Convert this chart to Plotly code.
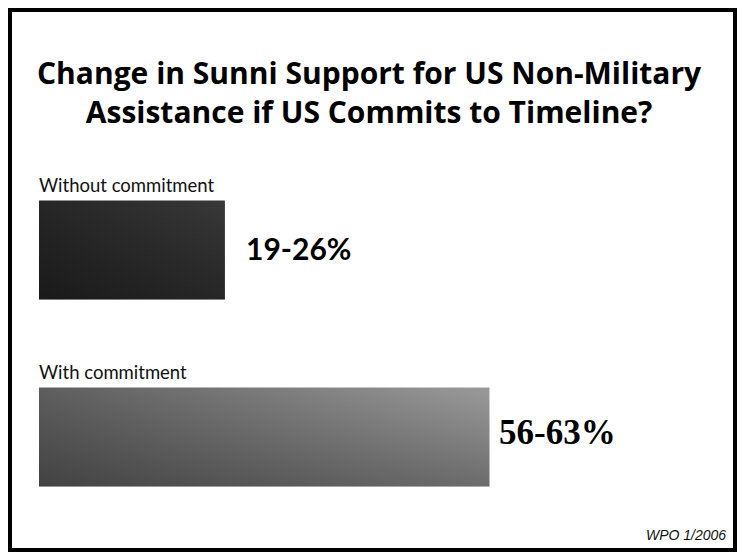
import plotly.graph_objects as go

# ---- data ----
categories = ["Without commitment", "With commitment"]
support_low = [19, 56]
support_high = [26, 63]
value_labels = [f"{lo}-{hi}%" for lo, hi in zip(support_low, support_high)]
title_text = "Change in Sunni Support for US Non-Military<br>Assistance if US Commits to Timeline?"
source_text = "WPO 1/2006"

# ---- style ----
W, H = 739, 552
BAR_H = 0.53
base_grad = [
    [[0, "#262626"], [1, "#383838"]],
    [[0, "#5e5e5e"], [1, "#9a9a9a"]],
]
shade_alpha = [0.32, 0.30]
label_pad = [19, 8]
value_fonts = [
    dict(family="Lato, 'Open Sans', sans-serif", size=30, color="#000"),
    dict(family="'Liberation Serif', 'Times New Roman', serif", size=35, color="#000"),
]
value_yshift = [2, 5]

fig = go.Figure()

for i, (cat, hi) in enumerate(zip(categories, support_high)):
    y0, y1 = i - BAR_H / 2, i + BAR_H / 2
    xs = [0, hi, hi, 0, 0]
    ys = [y0, y0, y1, y1, y0]
    fig.add_trace(go.Scatter(
        x=xs, y=ys, mode="lines", fill="toself",
        line=dict(width=0, color="rgba(0,0,0,0)"),
        fillgradient=dict(type="horizontal", colorscale=base_grad[i]),
        hoverinfo="skip", showlegend=False, name=cat,
    ))
    fig.add_trace(go.Scatter(
        x=xs, y=ys, mode="lines", fill="toself",
        line=dict(width=0, color="rgba(0,0,0,0)"),
        fillgradient=dict(type="vertical", start=y0, stop=y1,
                          colorscale=[[0, "rgba(0,0,0,0)"],
                                      [1, f"rgba(0,0,0,{shade_alpha[i]})"]]),
        hoverinfo="skip", showlegend=False,
    ))
    # category label above the bar
    fig.add_annotation(
        x=0, y=y0, xref="x", yref="y", text=cat, showarrow=False,
        xanchor="left", yanchor="middle", yshift=15, xshift=-2,
        font=dict(family="Lato, 'Open Sans', sans-serif", size=18.5, color="#111"),
    )
    # value label right of bar
    fig.add_annotation(
        x=hi, y=i, xref="x", yref="y", text=f"<b>{value_labels[i]}</b>",
        showarrow=False, xanchor="left", yanchor="middle",
        xshift=label_pad[i], yshift=value_yshift[i], font=value_fonts[i],
    )

# title
fig.add_annotation(
    x=0.5, y=1 - 92 / H, xref="paper", yref="paper", text=f"<b>{title_text}</b>",
    showarrow=False, xanchor="center", yanchor="middle", align="center",
    font=dict(family="'Open Sans', Lato, sans-serif", size=30, color="#000"),
)
# source
fig.add_annotation(
    x=728 / W, y=1 - 535 / H, xref="paper", yref="paper", text=source_text,
    showarrow=False, xanchor="right", yanchor="middle",
    font=dict(family="'Liberation Sans', 'DejaVu Sans', sans-serif", size=14,
              color="#111", style="italic"),
)

# frame
fig.add_shape(type="rect", xref="paper", yref="paper",
              x0=10 / W, x1=735 / W, y0=1 - 550 / H, y1=1 - 10 / H,
              line=dict(color="#000", width=4), fillcolor="rgba(0,0,0,0)", layer="above")

px_per_unit = 7.15
x_left = 39
fig.update_layout(
    width=W, height=H,
    margin=dict(l=0, r=0, t=0, b=0),
    paper_bgcolor="white", plot_bgcolor="white",
    xaxis=dict(range=[-x_left / px_per_unit, (W - x_left) / px_per_unit],
               visible=False, fixedrange=True),
    yaxis=dict(range=[302 / 187, -250 / 187], visible=False, fixedrange=True),
    showlegend=False,
)

fig.write_html(
    "out.html",
    config={"displayModeBar": False},
    post_script="document.body.style.margin='0';document.body.style.overflow='hidden';",
)
